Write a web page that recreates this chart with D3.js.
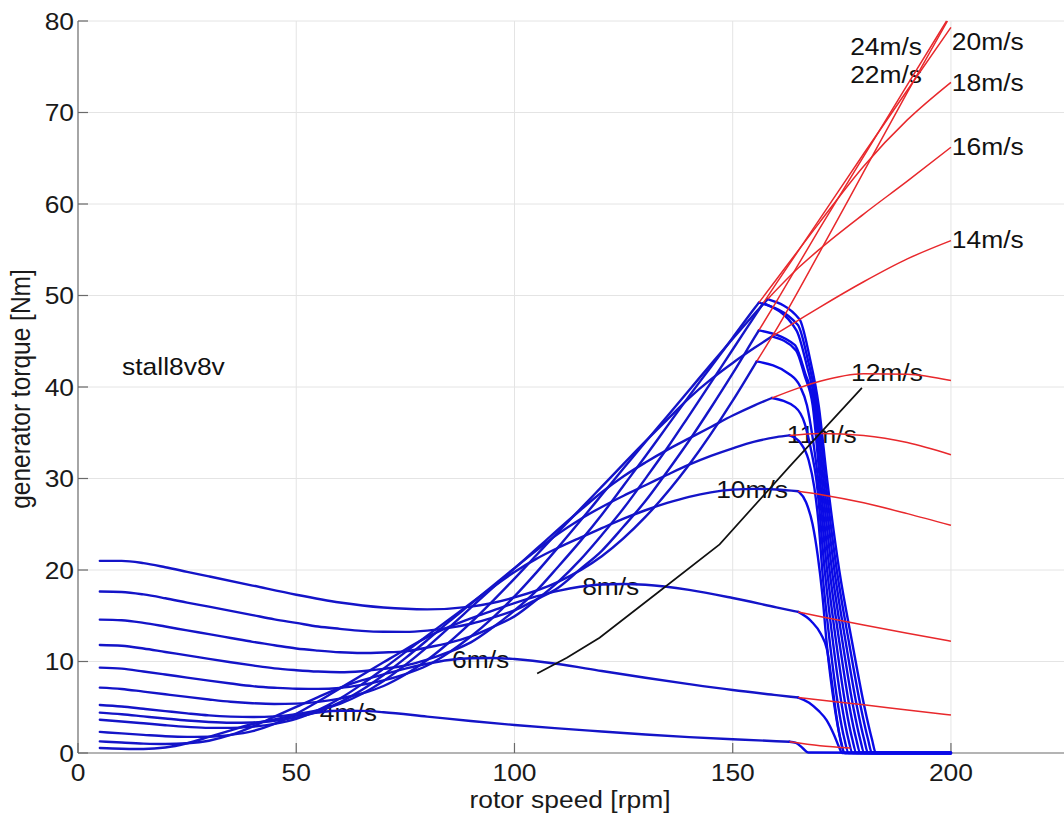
<!DOCTYPE html>
<html><head><meta charset="utf-8">
<script src="https://cdn.jsdelivr.net/npm/d3@7"></script>
<style>
html,body{margin:0;padding:0;background:#fff;}
svg{display:block;}
text{font-family:"Liberation Sans",Arial,Helvetica,sans-serif;}
</style>
</head><body>
<svg id="chart" width="1064" height="814"></svg>
<script>
// ---------- data (rotor speed [rpm], torque [Nm]) ----------
const windSpeeds = [4, 6, 8, 10, 11, 12, 14, 16, 18, 20, 22, 24];

// blue: torque following the aerodynamic curve
const aero4 = [[5,0.54],[10,0.46],[13,0.44],[15,0.44],[20,0.6],[25,1.07],[30,1.76],[35,2.48],[40,3.17],[45,3.68],[50,4.1],[55,4.43],[60,4.61],[65,4.6],[70,4.46],[80,3.98],[90,3.5],[100,3.06],[110,2.69],[120,2.35],[130,2.02],[140,1.74],[150,1.5],[160,1.29],[163,1.23]];
const aero6 = [[5,1.27],[10,1.14],[15,1.03],[20,0.98],[25,1.06],[30,1.34],[35,1.97],[40,2.89],[45,3.97],[50,5.04],[55,6.11],[60,7.13],[65,7.94],[70,8.59],[75,9.22],[80,9.75],[85,10.16],[90,10.36],[95,10.39],[100,10.27],[110,9.72],[120,8.96],[130,8.23],[140,7.53],[150,6.88],[160,6.33],[165,6.06]];
const aero8 = [[5,2.31],[10,2.14],[15,1.98],[20,1.83],[25,1.76],[30,1.78],[35,1.98],[40,2.39],[45,3.18],[50,4.28],[55,5.62],[60,7.06],[65,8.49],[70,9.91],[75,11.32],[80,12.67],[85,13.78],[90,14.72],[95,15.56],[100,16.39],[105,17.11],[110,17.72],[115,18.17],[120,18.42],[125,18.47],[130,18.39],[140,17.83],[150,16.94],[160,15.92],[165,15.42]];
const aero10 = [[5,3.63],[10,3.45],[15,3.25],[20,3.04],[25,2.86],[30,2.75],[35,2.75],[40,2.88],[45,3.19],[50,3.73],[55,4.68],[60,5.95],[65,7.5],[70,9.22],[75,11.02],[80,12.83],[85,14.6],[90,16.37],[95,18.11],[100,19.79],[105,21.22],[110,22.43],[115,23.52],[120,24.57],[125,25.61],[130,26.53],[135,27.33],[140,28.0],[145,28.49],[150,28.78],[155,28.87],[160,28.8],[165,28.61]];
const aero11 = [[5,4.41],[10,4.23],[15,4.0],[20,3.77],[25,3.55],[30,3.39],[35,3.31],[40,3.34],[45,3.53],[50,3.9],[55,4.52],[60,5.53],[65,6.88],[70,8.53],[75,10.37],[80,12.33],[85,14.35],[90,16.3],[95,18.26],[100,20.21],[105,22.12],[110,23.95],[115,25.53],[120,26.89],[125,28.12],[130,29.26],[135,30.41],[140,31.51],[145,32.47],[150,33.3],[155,34.03],[160,34.52],[163,34.71]];
const aero12 = [[5,5.25],[10,5.08],[15,4.83],[20,4.58],[25,4.33],[30,4.11],[35,3.98],[40,3.93],[45,4.0],[50,4.25],[55,4.68],[60,5.38],[65,6.45],[70,7.88],[75,9.63],[80,11.58],[85,13.7],[90,15.88],[95,18.05],[100,20.18],[105,22.3],[110,24.43],[115,26.5],[120,28.5],[125,30.25],[130,31.75],[135,33.13],[140,34.38],[145,35.63],[150,36.88],[155,38.0],[159,38.8]];
const aero14 = [[5,7.15],[10,7.0],[15,6.71],[20,6.42],[25,6.13],[30,5.85],[35,5.6],[40,5.44],[45,5.36],[50,5.4],[55,5.59],[60,5.95],[65,6.5],[70,7.32],[75,8.57],[80,10.16],[85,12.08],[90,14.24],[95,16.6],[100,19.06],[105,21.61],[110,24.15],[115,26.62],[120,29.11],[125,31.6],[130,34.06],[135,36.44],[140,38.79],[145,40.83],[150,42.63],[155,44.28],[159,45.53]];
const aero16 = [[5,9.33],[10,9.22],[15,8.91],[20,8.58],[25,8.24],[30,7.91],[35,7.6],[40,7.31],[45,7.13],[50,7.02],[55,7.01],[60,7.11],[65,7.44],[70,7.93],[75,8.62],[80,9.56],[85,10.99],[90,12.73],[95,14.78],[100,17.11],[105,19.71],[110,22.47],[115,25.32],[120,28.22],[125,31.12],[130,33.98],[135,36.81],[140,39.64],[145,42.48],[150,45.27],[155,48.0],[158,49.6]];
const aero18 = [[5,11.81],[10,11.72],[15,11.42],[20,11.04],[25,10.67],[30,10.29],[35,9.92],[40,9.57],[45,9.25],[50,9.05],[55,8.9],[60,8.83],[65,8.94],[70,9.19],[75,9.56],[80,10.2],[85,11.04],[90,12.09],[95,13.71],[100,15.57],[105,17.72],[110,20.36],[115,23.1],[120,26.04],[125,29.23],[130,32.44],[135,35.72],[140,39.0],[145,42.19],[150,45.39],[155,48.6],[156,49.22]];
const aero20 = [[5,14.58],[10,14.51],[15,14.22],[20,13.82],[25,13.4],[30,12.99],[35,12.57],[40,12.15],[45,11.78],[50,11.42],[55,11.19],[60,11.01],[65,10.93],[70,10.99],[75,11.11],[80,11.53],[85,12.04],[90,12.75],[95,13.76],[100,14.93],[105,16.72],[110,18.71],[115,21.08],[120,23.82],[125,26.74],[130,29.99],[135,33.33],[140,36.88],[145,40.47],[150,44.1],[155,47.72],[157,49.17]];
const aero22 = [[5,17.65],[10,17.6],[15,17.33],[20,16.91],[25,16.44],[30,15.99],[35,15.53],[40,15.07],[45,14.61],[50,14.22],[55,13.82],[60,13.57],[65,13.35],[70,13.25],[75,13.24],[80,13.38],[85,13.67],[90,14.13],[95,14.8],[100,15.59],[105,16.77],[110,18.07],[115,20.06],[120,22.1],[125,24.75],[130,27.53],[135,30.76],[140,34.12],[145,37.73],[150,41.48],[155,45.41],[156,46.19]];
const aero24 = [[5,21.0],[10,21.0],[15,20.75],[20,20.3],[25,19.8],[30,19.3],[40,18.3],[50,17.3],[60,16.45],[70,15.9],[80,15.7],[90,16.0],[100,17.0],[110,18.7],[120,21.5],[130,25.8],[140,31.5],[150,38.5],[155.5,42.8]];

// blue: generator torque dropping after the limit speed
const gen4 = [[163,1.23],[164.5,1.1],[166,0.55],[167.3,0.05],[200,0]];
const gen6 = [[165,6.06],[167.5,5.5],[169.7,4.6],[171.5,3.6],[173.2,2.0],[174.4,0.6],[175.1,0],[200,0]];
const gen8 = [[165,15.42],[168,14.4],[170.2,13.0],[171.6,11.3],[172.7,7.8],[173.7,4.2],[174.7,1.4],[175.6,0],[200,0]];
const gen10 = [[165,28.61],[166.8,27.4],[168.3,25],[169.5,21.5],[170.5,17.5],[171.53,12],[173.35,5],[174.7,1.5],[175.69,0],[200,0]];
const gen11 = [[163,34.71],[165.5,33.9],[167.4,32],[168.7,29],[169.7,25],[170.51,20],[172.27,12],[174.21,5],[175.6,1.5],[176.58,0],[200,0]];
const gen12 = [[159,38.8],[164.3,37.8],[166.5,36],[168.0,33],[169.13,30],[171.07,20],[173.0,12],[175.07,5],[176.5,1.5],[177.47,0],[200,0]];
const gen14 = [[159,45.53],[164.5,44],[166.5,41.2],[168.32,38],[169.96,30],[172.18,20],[174.47,12],[176.78,5],[178.3,1.5],[179.25,0],[200,0]];
const gen16 = [[158,49.6],[165.3,47.4],[167.6,43.3],[169.7,38],[171.6,30],[174.4,20],[177.4,12],[180.2,5],[181.9,1.5],[182.8,0],[200,0]];
const gen18 = [[156,49.22],[164.9,46.8],[167.3,42.8],[169.36,38],[171.19,30],[173.84,20],[176.67,12],[179.35,5],[181.0,1.5],[181.91,0],[200,0]];
const gen20 = [[157,49.17],[164.6,46.2],[167,42.3],[169.01,38],[170.78,30],[173.29,20],[175.93,12],[178.49,5],[180.1,1.5],[181.02,0],[200,0]];
const gen22 = [[156,46.19],[164.2,44.6],[166.6,41.5],[168.67,38],[170.37,30],[172.73,20],[175.2,12],[177.63,5],[179.2,1.5],[180.14,0],[200,0]];
const gen24 = [[155.5,42.8],[163,41.4],[165.4,40.1],[167.0,38],[168.3,34.5],[169.54,30],[171.62,20],[173.73,12],[175.92,5],[177.4,1.5],[178.35,0],[200,0]];

// red: aerodynamic torque beyond the limit speed
const over4 = [[163,1.23],[170,0.8],[177,0.55]];
const over6 = [[165,6.06],[170,5.79],[180,5.28],[190,4.7],[200,4.15]];
const over8 = [[165,15.42],[170,14.93],[180,13.99],[190,13.09],[200,12.22]];
const over10 = [[165,28.61],[170,28.26],[180,27.34],[190,26.16],[200,24.88]];
const over11 = [[163,34.71],[170,34.93],[180,34.7],[190,33.93],[200,32.6]];
const over12 = [[159,38.8],[165,39.88],[170,40.63],[180,41.45],[190,41.4],[200,40.7]];
const over14 = [[159,45.53],[165,47.28],[170,48.73],[180,51.5],[190,54.0],[200,56.0]];
const over16 = [[158,49.6],[165,53.0],[170,55.1],[180,58.9],[190,62.5],[200,66.2]];
const over18 = [[156,49.22],[160,51.75],[170,58.05],[180,64.13],[190,69.19],[200,73.3]];
const over20 = [[157,49.17],[160,51.32],[170,58.4],[180,65.49],[190,72.43],[200,79.3]];
const over22 = [[156,46.19],[160,49.33],[170,57.39],[180,65.2],[190,73.02],[199,80]];
const over24 = [[155.5,42.8],[160,46.3],[170,54.8],[180,63.5],[190,72.2],[199.2,80]];

// black operating line
const operating = [[105.2,8.7],[112,10.4],[119.5,12.6],[133,17.6],[147,22.8],[163,31.3],[179.6,39.9]];

// axes
const xTicks = [0, 50, 100, 150, 200];
const yTicks = [0, 10, 20, 30, 40, 50, 60, 70, 80];
const xTitle = "rotor speed [rpm]";
const yTitle = "generator torque [Nm]";

// annotations (text, anchor in data units)
const annoText = ["24m/s","22m/s","20m/s","18m/s","16m/s","14m/s","12m/s","11m/s","10m/s","8m/s","6m/s","4m/s","stall8v8v"];
const annoX = [176.9, 176.9, 200.2, 200.2, 200.2, 200.2, 177.1, 162.4, 146.2, 115.5, 85.7, 55.4, 10.1];
const annoY = [76.3, 73.2, 76.8, 72.3, 65.4, 55.2, 40.7, 33.9, 27.9, 17.3, 9.3, 3.5, 41.3];

// ---------- drawing ----------
const aeroBy = {4:aero4,6:aero6,8:aero8,10:aero10,11:aero11,12:aero12,14:aero14,16:aero16,18:aero18,20:aero20,22:aero22,24:aero24};
const genBy = {4:gen4,6:gen6,8:gen8,10:gen10,11:gen11,12:gen12,14:gen14,16:gen16,18:gen18,20:gen20,22:gen22,24:gen24};
const overBy = {4:over4,6:over6,8:over8,10:over10,11:over11,12:over12,14:over14,16:over16,18:over18,20:over20,22:over22,24:over24};

const W = 1064, H = 814;
const x = d3.scaleLinear().domain([0, 225.9]).range([78, 1064]);
const y = d3.scaleLinear().domain([0, 80]).range([753, 21]);
const svg = d3.select("#chart");
const SX = 1.1, FS = 24;

// grid
const grid = svg.append("g").attr("stroke", "#e4e4e4").attr("stroke-width", 1);
xTicks.filter(d => d > 0).forEach(d => grid.append("line")
  .attr("x1", x(d)).attr("x2", x(d)).attr("y1", y(0)).attr("y2", y(80)));
yTicks.filter(d => d > 0).forEach(d => grid.append("line")
  .attr("x1", x(0)).attr("x2", W).attr("y1", y(d)).attr("y2", y(d)));

// axis lines & ticks
const ax = svg.append("g").attr("stroke", "#6a6a6a").attr("stroke-width", 1.2);
ax.append("line").attr("x1", x(0)).attr("x2", x(0)).attr("y1", y(0)).attr("y2", y(80));
ax.append("line").attr("x1", x(0)).attr("x2", W).attr("y1", y(0)).attr("y2", y(0));
xTicks.forEach(d => ax.append("line").attr("x1", x(d)).attr("x2", x(d)).attr("y1", y(0)).attr("y2", y(0) - 10));
yTicks.forEach(d => ax.append("line").attr("x1", x(0)).attr("x2", x(0) + 10).attr("y1", y(d)).attr("y2", y(d)));

function stext(px, py, str, anchor, size) {
  return svg.append("text")
    .attr("transform", `translate(${px},${py}) scale(${SX},1)`)
    .attr("text-anchor", anchor).attr("font-size", size).attr("fill", "#1a1a1a").text(str);
}
xTicks.forEach(d => stext(x(d), y(0) + 28, String(d), "middle", FS));
yTicks.forEach(d => stext(x(0) - 4, y(d) + 8.5, String(d), "end", FS));
stext((x(0) + W) / 2 - 1, 807.5, xTitle, "middle", FS);
svg.append("text")
  .attr("transform", `translate(30,${(y(0) + y(80)) / 2 + 2}) scale(${SX},1) rotate(-90)`)
  .attr("text-anchor", "middle").attr("font-size", 24.5).attr("fill", "#1a1a1a").text(yTitle);

// annotations (under the curves)
annoText.forEach((t, i) => stext(x(annoX[i]), y(annoY[i]), t, "start", FS).attr("fill", "#111"));

const lineSmooth = d3.line().x(d => x(d[0])).y(d => y(d[1])).curve(d3.curveMonotoneX);
const lineStraight = d3.line().x(d => x(d[0])).y(d => y(d[1]));

const blue = svg.append("g").attr("fill", "none").attr("stroke", "#1414c8").attr("stroke-width", 2.4)
  .attr("stroke-linejoin", "round").attr("stroke-linecap", "round");
windSpeeds.forEach(v => {
  blue.append("path").attr("d", lineSmooth(aeroBy[v]));
  blue.append("path").attr("d", lineSmooth(genBy[v])).attr("stroke", "#0a0ae6");
});
const red = svg.append("g").attr("fill", "none").attr("stroke", "#e8282c").attr("stroke-width", 1.5);
windSpeeds.forEach(v => red.append("path").attr("d", lineSmooth(overBy[v])));

svg.append("path").attr("d", lineStraight(operating)).attr("fill", "none")
  .attr("stroke", "#111").attr("stroke-width", 1.7);
</script>
</body></html>
